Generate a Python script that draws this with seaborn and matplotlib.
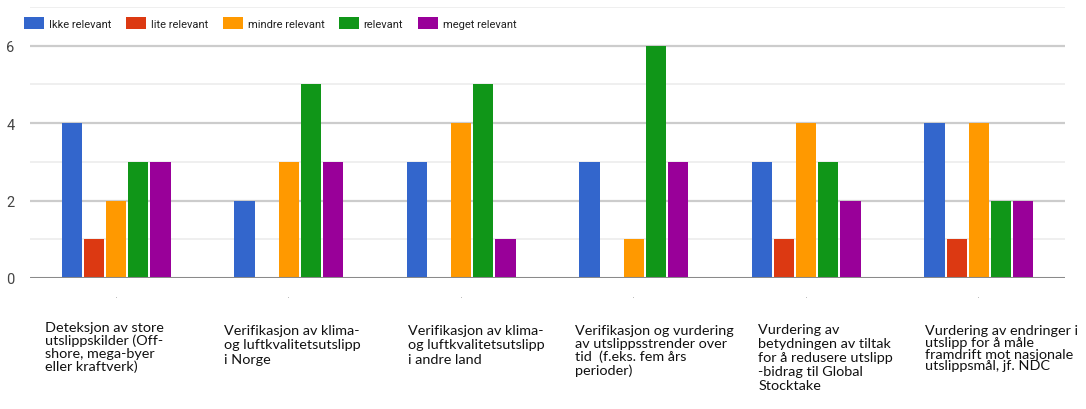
import matplotlib
matplotlib.use("Agg")
import matplotlib.pyplot as plt
from matplotlib.patches import Patch
import pandas as pd
import seaborn as sns

# Survey topics (x categories) and answer levels (hue)
topics = [
    "Deteksjon av store\nutslippskilder (Off-\nshore, mega-byer\neller kraftverk)",
    "Verifikasjon av klima-\nog luftkvalitetsutslipp\ni Norge",
    "Verifikasjon av klima-\nog luftkvalitetsutslipp\ni andre land",
    "Verifikasjon og vurdering\nav utslippsstrender over\ntid  (f.eks. fem års\nperioder)",
    "Vurdering av\nbetydningen av tiltak\nfor å redusere utslipp\n-bidrag til Global\nStocktake",
    "Vurdering av endringer i\nutslipp for å måle\nframdrift mot nasjonale\nutslippsmål, jf. NDC",
]
levels = ["Ikke relevant", "lite relevant", "mindre relevant", "relevant", "meget relevant"]

# Number of answers per level, one list per topic
ikke_relevant = [4, 2, 3, 3, 3, 4]
lite_relevant = [1, 0, 0, 0, 1, 1]
mindre_relevant = [2, 3, 4, 1, 4, 4]
relevant = [3, 5, 5, 6, 3, 2]
meget_relevant = [3, 3, 1, 3, 2, 2]

yticks = [0, 2, 4, 6]

colors = ["#3366cc", "#dc3912", "#ff9900", "#109618", "#990099"]

series = [ikke_relevant, lite_relevant, mindre_relevant, relevant, meget_relevant]
rows = []
for level, values in zip(levels, series):
    for topic, v in zip(topics, values):
        rows.append({"tema": topic, "svar": level, "antall": v})
df = pd.DataFrame(rows)

sns.set_theme(style="white")
plt.rcParams["font.family"] = ["Roboto", "DejaVu Sans"]

fig = plt.figure(figsize=(10.86, 4.10), dpi=100)
ax = fig.add_axes([30 / 1086, 1 - 279 / 410, 1035 / 1086, 271 / 410])

sns.barplot(
    data=df, x="tema", y="antall", hue="svar",
    order=topics, hue_order=levels, palette=colors,
    width=0.64, gap=0.08, saturation=1, legend=False, ax=ax,
    edgecolor="none",
)

ax.set_xlim(-0.5, len(topics) - 0.5)
ax.set_ylim(0, 7)
ax.set_xlabel("")
ax.set_ylabel("")

# gridlines: strong at even values, faint at odd values
for y in range(1, 8):
    ax.axhline(y, color="#cccccc" if y % 2 == 0 else "#ececec",
               lw=1.6 if y % 2 == 0 else 1.2, zorder=0)
ax.axhline(0, color="#8a8a8a", lw=2.2, zorder=3)

ax.set_yticks(yticks)
ax.set_yticklabels([str(t) for t in yticks], fontsize=10.5, color="#444444")
ax.tick_params(axis="y", length=0, pad=11)

ax.set_xticks(range(len(topics)))
ax.set_xticklabels(["·"] * len(topics), fontsize=7, color="#b0b0b0",
                   family="DejaVu Sans")
ax.tick_params(axis="x", length=0, pad=10)

for s in ax.spines.values():
    s.set_visible(False)

# Topic captions under each group: horizontal shift, vertical drop, line spacing
shifts = [-71, -65, -53, -59, -48, -54]
drops = [-43, -46, -46, -46, -45, -46]
spacings = [1.07, 1.24, 1.24, 1.09, 1.21, 0.98]
for i, topic in enumerate(topics):
    ax.annotate(
        topic, xy=(i, 0), xycoords=("data", "axes fraction"),
        xytext=(shifts[i], drops[i]), textcoords="offset pixels",
        ha="left", va="top", fontsize=10.4,
        linespacing=spacings[i], color="#111111",
        family=["Lato", "DejaVu Sans"], annotation_clip=False,
    )

handles = [Patch(facecolor=c, edgecolor="none", label=l) for c, l in zip(colors, levels)]
fig.legend(
    handles=handles, loc="upper left", bbox_to_anchor=(24 / 1086, 1 - 18 / 410),
    ncol=5, frameon=False, fontsize=8, handlelength=1.8, handleheight=1.35,
    handletextpad=0.45, columnspacing=1.3, labelcolor="#222222",
    borderaxespad=0, borderpad=0,
)

fig.savefig("out.png", dpi=100, facecolor="white")
